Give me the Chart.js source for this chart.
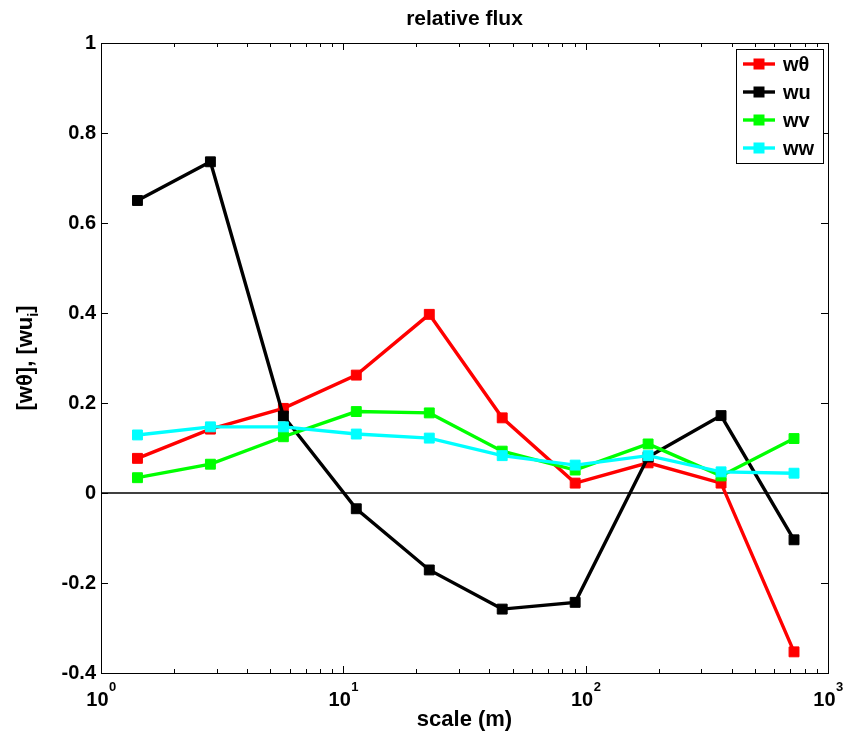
<!DOCTYPE html>
<html>
<head>
<meta charset="utf-8">
<script src="https://cdn.jsdelivr.net/npm/chart.js@4/dist/chart.umd.min.js"></script>
<style>
  body { margin: 0; background: #fff; }
  canvas { display: block; }
</style>
</head>
<body>
<canvas id="chart_canvas" width="844" height="737"></canvas>
<script>
// scale (m) of each point
const scales = [1.414, 2.828, 5.657, 11.31, 22.63, 45.25, 90.51, 181.0, 362.0, 724.1];

const wTheta = [0.077, 0.142, 0.188, 0.262, 0.397, 0.167, 0.022, 0.067, 0.022, -0.353];
const wu     = [0.650, 0.736, 0.171, -0.035, -0.171, -0.258, -0.243, 0.080, 0.172, -0.104];
const wv     = [0.034, 0.064, 0.125, 0.181, 0.178, 0.093, 0.051, 0.109, 0.038, 0.121];
const ww     = [0.129, 0.147, 0.147, 0.131, 0.122, 0.083, 0.062, 0.083, 0.047, 0.044];

const seriesNames = ["w\u03b8", "wu", "wv", "ww"];
const seriesColors = ["#ff0000", "#000000", "#00ff00", "#00ffff"];
const xMajorTicks = [1, 10, 100, 1000];
const xTickExponents = ["0", "1", "2", "3"];
const yTicks = [-0.4, -0.2, 0, 0.2, 0.4, 0.6, 0.8, 1];

const FONT = "'Liberation Sans', Arial, Helvetica, sans-serif";

function toPoints(values)
{
  return values.map((v, i) => ({x: scales[i], y: v}));
}

function makeSeries(idx, values)
{
  return {
    label: seriesNames[idx],
    data: toPoints(values),
    borderColor: seriesColors[idx],
    backgroundColor: seriesColors[idx],
    borderWidth: 3.4,
    pointStyle: "rect",
    pointRadius: 7,
    pointBorderWidth: 1,
    pointHoverRadius: 7,
    order: 4 - idx
  };
}

// frame, ticks, labels, legend
const matlabLook = {
  id: "matlabLook",
  afterDraw(chart)
  {
    const ctx = chart.ctx;
    const a = chart.chartArea;
    const xs = chart.scales.x;
    const ys = chart.scales.y;

    ctx.save();
    ctx.strokeStyle = "#000";
    ctx.lineWidth = 1;

    // frame
    ctx.strokeRect(a.left + 0.5, a.top + 0.5, a.right - a.left, a.bottom - a.top);

    // x ticks (major + minor), pointing inward
    ctx.beginPath();
    for (let d = 1; d < 1000; d *= 10)
    {
      for (let m = 1; m <= 10; m++)
      {
        const v = d * m;
        const px = Math.round(xs.getPixelForValue(v)) + 0.5;
        const len = (m == 1 || m == 10) ? 7 : 4;
        ctx.moveTo(px, a.bottom);
        ctx.lineTo(px, a.bottom - len);
        ctx.moveTo(px, a.top);
        ctx.lineTo(px, a.top + len);
      }
    }
    // y ticks
    yTicks.forEach(v => {
      const py = Math.round(ys.getPixelForValue(v)) + 0.5;
      ctx.moveTo(a.left, py);
      ctx.lineTo(a.left + 7, py);
      ctx.moveTo(a.right, py);
      ctx.lineTo(a.right - 7, py);
    });
    ctx.stroke();

    // x tick labels with superscript exponents
    ctx.fillStyle = "#000";
    ctx.textBaseline = "alphabetic";
    xMajorTicks.forEach((v, i) => {
      const px = xs.getPixelForValue(v);
      ctx.font = "bold 20px " + FONT;
      const wBase = ctx.measureText("10").width;
      ctx.font = "bold 13px " + FONT;
      const wExp = ctx.measureText(xTickExponents[i]).width;
      const x0 = px - (wBase + wExp) / 2;
      ctx.font = "bold 20px " + FONT;
      ctx.textAlign = "left";
      ctx.fillText("10", x0, a.bottom + 33);
      ctx.font = "bold 13px " + FONT;
      ctx.fillText(xTickExponents[i], x0 + wBase + 0.5, a.bottom + 18);
    });

    // title and x axis title
    ctx.textAlign = "center";
    ctx.font = "bold 21px " + FONT;
    ctx.fillText("relative flux", (a.left + a.right) / 2, 25);
    ctx.font = "bold 22px " + FONT;
    ctx.fillText("scale (m)", (a.left + a.right) / 2, 726);

    // y axis title, rotated, with subscript i
    ctx.save();
    ctx.translate(32, (a.top + a.bottom) / 2);
    ctx.rotate(-Math.PI / 2);
    ctx.font = "bold 22px " + FONT;
    const part1 = "[w\u03b8], [wu";
    const w1 = ctx.measureText(part1).width;
    ctx.font = "bold 14px " + FONT;
    const wi = ctx.measureText("i").width;
    ctx.font = "bold 22px " + FONT;
    const w2 = ctx.measureText("]").width;
    let tx = -(w1 + wi + w2) / 2;
    ctx.textAlign = "left";
    ctx.fillText(part1, tx, 0);
    ctx.font = "bold 14px " + FONT;
    ctx.fillText("i", tx + w1, 6);
    ctx.font = "bold 22px " + FONT;
    ctx.fillText("]", tx + w1 + wi, 0);
    ctx.restore();

    // legend box
    const bx = a.right - 92, by = a.top + 6, bw = 87, bh = 114;
    ctx.fillStyle = "#fff";
    ctx.fillRect(bx, by, bw, bh);
    ctx.strokeStyle = "#000";
    ctx.lineWidth = 1;
    ctx.strokeRect(bx + 0.5, by + 0.5, bw, bh);
    ctx.font = "bold 20px " + FONT;
    ctx.textAlign = "left";
    ctx.textBaseline = "middle";
    seriesNames.forEach((name, i) => {
      const ly = by + 15 + i * 28;
      ctx.strokeStyle = seriesColors[i];
      ctx.lineWidth = 3.4;
      ctx.beginPath();
      ctx.moveTo(bx + 7, ly);
      ctx.lineTo(bx + 39, ly);
      ctx.stroke();
      ctx.fillStyle = seriesColors[i];
      ctx.fillRect(bx + 23 - 5.5, ly - 5.5, 11, 11);
      ctx.fillStyle = "#000";
      ctx.fillText(name, bx + 47, ly + 1);
    });

    ctx.restore();
  }
};

const config =
{
  type: "line",
  data: {
    datasets: [
      makeSeries(0, wTheta),
      makeSeries(1, wu),
      makeSeries(2, wv),
      makeSeries(3, ww),
      {
        label: "zero",
        data: [{x: 1, y: 0}, {x: 1000, y: 0}],
        borderColor: "#000",
        borderWidth: 1.3,
        pointRadius: 0,
        order: 10
      }
    ]
  },
  options: {
    responsive: false,
    animation: false,
    layout: {padding: {top: 43, right: 16, left: 0, bottom: 0}},
    plugins: {
      legend: {display: false},
      title: {display: false},
      tooltip: {enabled: false}
    },
    scales: {
      x: {
        type: "logarithmic",
        min: 1,
        max: 1000,
        grid: {display: false},
        border: {display: false},
        ticks: {display: false},
        afterFit: s => { s.height = 64; }
      },
      y: {
        type: "linear",
        min: -0.4,
        max: 1,
        grid: {display: false, drawTicks: false},
        border: {display: false},
        ticks: {
          stepSize: 0.2,
          padding: 5,
          color: "#000",
          font: {family: FONT, size: 20, weight: "bold"},
          callback: v => String(Math.round(v * 10) / 10)
        },
        afterFit: s => { s.width = 101; }
      }
    }
  },
  plugins: [matlabLook]
};

new Chart(document.getElementById("chart_canvas"), config);
</script>
</body>
</html>
